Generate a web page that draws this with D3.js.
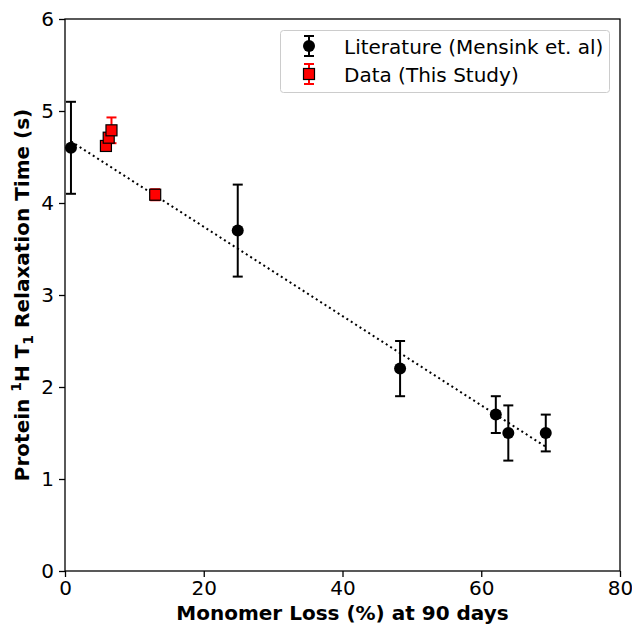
<!DOCTYPE html>
<html>
<head>
<meta charset="utf-8">
<script src="https://d3js.org/d3.v7.min.js"></script>
<style>
  body { margin: 0; background: #fff; }
  svg text { font-family: "DejaVu Sans", sans-serif; }
</style>
</head>
<body>
<svg id="chart" width="632" height="626"></svg>
<script>
// literature values (Mensink et. al)
var litX = [0.86, 24.9, 48.3, 62.1, 63.9, 69.3];
var litY = [4.6, 3.7, 2.2, 1.7, 1.5, 1.5];
var litErr = [0.5, 0.5, 0.3, 0.2, 0.3, 0.2];

// this study
var ownX = [5.9, 6.3, 6.7, 13.0];
var ownY = [4.62, 4.71, 4.79, 4.09];
var ownErr = [0.05, 0.05, 0.14, 0.06];

// dotted trend line end points
var fitX = [0.86, 69.3];
var fitY = [4.67, 1.35];

var xTicks = [0, 20, 40, 60, 80];
var yTicks = [0, 1, 2, 3, 4, 5, 6];

var plotLeft = 65, plotRight = 620, plotTop = 19, plotBottom = 571;

var svg = d3.select("#chart");

var x_scale = d3.scaleLinear().domain([0, 80]).range([plotLeft, plotRight]);
var y_scale = d3.scaleLinear().domain([0, 6]).range([plotBottom, plotTop]);

// axes
var xAxis = svg.append("g")
    .attr("transform", "translate(0," + plotBottom + ")")
    .call(d3.axisBottom(x_scale).tickValues(xTicks).tickFormat(d3.format("d")).tickSize(6).tickPadding(4));
var yAxis = svg.append("g")
    .attr("transform", "translate(" + plotLeft + ",0)")
    .call(d3.axisLeft(y_scale).tickValues(yTicks).tickFormat(d3.format("d")).tickSize(6).tickPadding(5));

[xAxis, yAxis].forEach(function(a) {
    a.select(".domain").remove();
    a.selectAll("line").attr("stroke", "#000").attr("stroke-width", 1.3);
    a.selectAll("text").style("font-size", "20px").attr("fill", "#000");
});

// frame
svg.append("rect")
    .attr("x", plotLeft).attr("y", plotTop)
    .attr("width", plotRight - plotLeft).attr("height", plotBottom - plotTop)
    .attr("fill", "none").attr("stroke", "#000").attr("stroke-width", 1.3);

// trend line
svg.append("line")
    .attr("x1", x_scale(fitX[0])).attr("y1", y_scale(fitY[0]))
    .attr("x2", x_scale(fitX[1])).attr("y2", y_scale(fitY[1]))
    .attr("stroke", "#000").attr("stroke-width", 2)
    .attr("stroke-dasharray", "2,3.2");

function errorBars(g, xs, ys, errs, color) {
    xs.forEach(function(xv, i) {
        var cx = x_scale(xv);
        var y1 = y_scale(ys[i] + errs[i]), y2 = y_scale(ys[i] - errs[i]);
        g.append("line").attr("x1", cx).attr("x2", cx).attr("y1", y1).attr("y2", y2)
            .attr("stroke", color).attr("stroke-width", 2);
        [y1, y2].forEach(function(yy) {
            g.append("line").attr("x1", cx - 5).attr("x2", cx + 5).attr("y1", yy).attr("y2", yy)
                .attr("stroke", color).attr("stroke-width", 2);
        });
    });
}

// literature
var litG = svg.append("g");
errorBars(litG, litX, litY, litErr, "#000");
litG.selectAll("circle")
    .data(litX)
    .enter()
    .append("circle")
    .attr("cx", function(d) { return x_scale(d); })
    .attr("cy", function(d, i) { return y_scale(litY[i]); })
    .attr("r", 6)
    .attr("fill", "#000");

// this study
var ownG = svg.append("g");
errorBars(ownG, ownX, ownY, ownErr, "red");
ownG.selectAll("rect")
    .data(ownX)
    .enter()
    .append("rect")
    .attr("x", function(d) { return x_scale(d) - 5.5; })
    .attr("y", function(d, i) { return y_scale(ownY[i]) - 5.5; })
    .attr("width", 11).attr("height", 11)
    .attr("fill", "red").attr("stroke", "#000").attr("stroke-width", 1.2);

// legend
var lg = svg.append("g");
lg.append("rect")
    .attr("x", 280.5).attr("y", 30.5).attr("width", 329).attr("height", 62)
    .attr("rx", 3).attr("fill", "#fff").attr("fill-opacity", 0.8)
    .attr("stroke", "#ccc").attr("stroke-width", 1);

function legendHandle(cy, color, square) {
    var cx = 309;
    lg.append("line").attr("x1", cx).attr("x2", cx).attr("y1", cy - 10).attr("y2", cy + 10)
        .attr("stroke", color).attr("stroke-width", 2);
    [cy - 10, cy + 10].forEach(function(yy) {
        lg.append("line").attr("x1", cx - 5).attr("x2", cx + 5).attr("y1", yy).attr("y2", yy)
            .attr("stroke", color).attr("stroke-width", 2);
    });
    if (square) {
        lg.append("rect").attr("x", cx - 5.5).attr("y", cy - 5.5).attr("width", 11).attr("height", 11)
            .attr("fill", "red").attr("stroke", "#000").attr("stroke-width", 1.2);
    } else {
        lg.append("circle").attr("cx", cx).attr("cy", cy).attr("r", 6).attr("fill", "#000");
    }
}
legendHandle(46, "#000", false);
legendHandle(74, "red", true);

lg.append("text").attr("x", 344).attr("y", 54).style("font-size", "20px")
    .text("Literature (Mensink et. al)");
lg.append("text").attr("x", 344).attr("y", 82).style("font-size", "20px")
    .text("Data (This Study)");

// axis labels
svg.append("text")
    .attr("x", (plotLeft + plotRight) / 2 - 0).attr("y", 620)
    .attr("text-anchor", "middle")
    .style("font-size", "20px").style("font-weight", "bold")
    .text("Monomer Loss (%) at 90 days");

var yl = svg.append("text")
    .attr("transform", "translate(29," + ((plotTop + plotBottom) / 2) + ") rotate(-90)")
    .attr("text-anchor", "middle")
    .style("font-size", "20px").style("font-weight", "bold");
yl.append("tspan").text("Protein ");
yl.append("tspan").attr("dy", -8).style("font-size", "14px").text("1");
yl.append("tspan").attr("dy", 8).text("H T");
yl.append("tspan").attr("dy", 4).style("font-size", "14px").text("1");
yl.append("tspan").attr("dy", -4).text(" Relaxation Time (s)");
</script>
</body>
</html>
